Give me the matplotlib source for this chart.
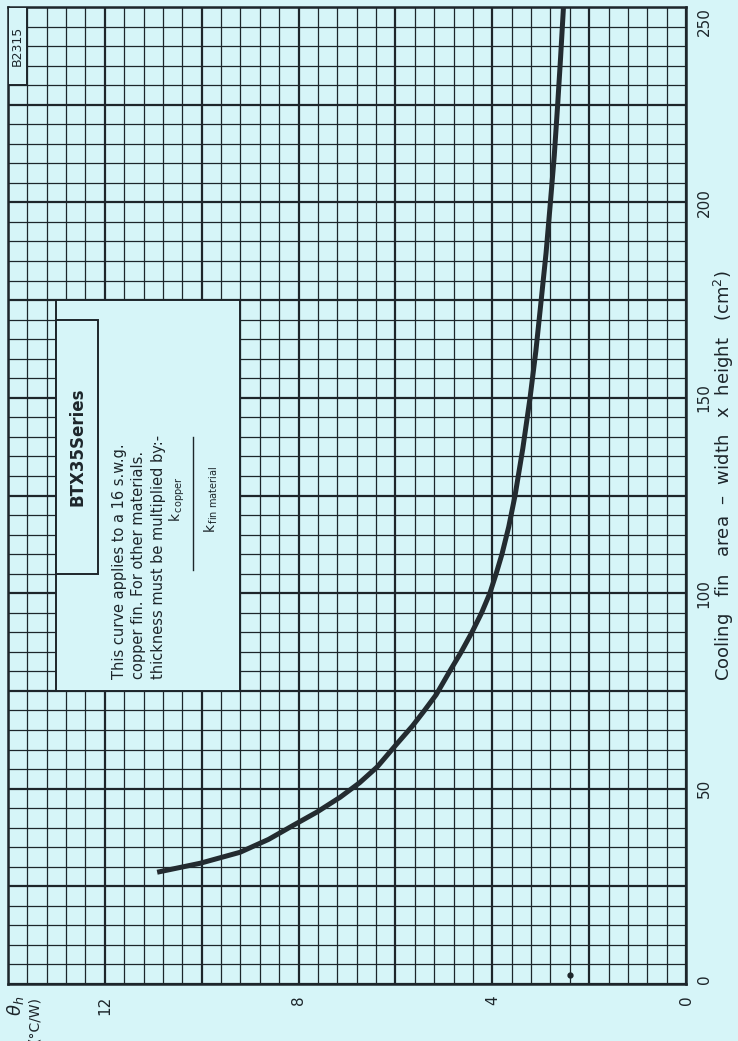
import matplotlib
matplotlib.use("Agg")
import matplotlib.pyplot as plt
from matplotlib.patches import Rectangle
import numpy as np

# Heatsink thermal resistance vs. cooling fin area (BTX35 series)
fin_area = [28.6, 30.9, 33.7, 37, 40.6, 44, 47.8, 51.5, 55.5, 61.6, 66, 70, 74, 80, 85, 90,
            95, 100, 105, 110, 117, 125, 137, 150, 162, 175, 187, 200, 212, 225, 237, 250]
theta_h = [10.92, 10.03, 9.21, 8.62, 8.11, 7.62, 7.14, 6.74, 6.38, 5.96, 5.65, 5.4, 5.16,
           4.88, 4.64, 4.42, 4.22, 4.05, 3.92, 3.8, 3.66, 3.53, 3.37, 3.22, 3.1, 2.99, 2.89,
           2.8, 2.72, 2.65, 2.59, 2.53]

area_ticks = [0, 50, 100, 150, 200, 250]
theta_ticks = [0, 4, 8, 12]

BG = "#d6f5f8"
INK = "#1d262b"

fig = plt.figure(figsize=(7.38, 10.41), dpi=100, facecolor=BG)
W, H = 738, 1041
left, right, top, bottom = 8, 686, 7, 984
ax = fig.add_axes([left / W, 1 - bottom / H, (right - left) / W, (bottom - top) / H])
ax.set_facecolor(BG)

# printed sideways: theta runs horizontally (increasing leftwards),
# fin area runs vertically
ax.set_xlim(14, 0)
ax.set_ylim(0, 250)

# graph-paper grid
for v in np.arange(0, 14.01, 0.4):
    major = abs(v / 2 - round(v / 2)) < 1e-6
    ax.axvline(v, color=INK, lw=1.6 if major else 0.9, zorder=1)
for a in np.arange(0, 250.01, 5):
    major = a % 25 == 0
    ax.axhline(a, color=INK, lw=1.6 if major else 0.9, zorder=1)

# blank panels for the notes
ax.add_patch(Rectangle((9.2, 75), 3.8, 100, facecolor=BG, edgecolor=INK, lw=1.4, zorder=2))
ax.add_patch(Rectangle((12.15, 105), 0.85, 65, facecolor=BG, edgecolor=INK, lw=1.4, zorder=3))
ax.add_patch(Rectangle((13.6, 230), 0.4, 20, facecolor=BG, edgecolor=INK, lw=1.4, zorder=3))

ax.plot(theta_h, fin_area, color="#232b30", lw=3.6, solid_capstyle="butt",
        solid_joinstyle="round", zorder=5)
ax.plot([2.4], [2.3], "o", color=INK, ms=3.5, zorder=5)

for s in ax.spines.values():
    s.set_color(INK)
    s.set_linewidth(1.8)
ax.set_xticks([])
ax.set_yticks([])

fs = 11
for a in area_ticks:
    ax.text(-0.22, a, str(a), rotation=90, ha="left",
            va="bottom" if a == 0 else ("top" if a == 250 else "center"),
            fontsize=fs, color=INK)
for t in theta_ticks:
    ax.text(t, -3, str(t), rotation=90, ha="center", va="top", fontsize=fs, color=INK)

ax.text(-0.78, 130, "Cooling   fin   area  –  width   x  height   (cm$^2$)", rotation=90,
        ha="center", va="center", fontsize=13, color=INK)
ax.text(13.85, -3, r"$\theta_h$", rotation=90, ha="center", va="top", fontsize=13, color=INK)
ax.text(13.45, -3, "(°C/W)", rotation=90, ha="center", va="top", fontsize=10, color=INK)

ax.text(13.8, 240, "B2315", rotation=90, ha="center", va="center", fontsize=9, color=INK, zorder=6)
ax.text(12.575, 137.5, "BTX35Series", rotation=90, ha="center", va="center", fontsize=12,
        fontweight="bold", color=INK, zorder=6)

note = ["This curve applies to a 16 s.w.g.",
        "copper fin. For other materials.",
        "thickness must be multiplied by:-"]
for i, line in enumerate(note):
    ax.text(11.69 - 0.395 * i, 78, line, rotation=90, ha="center", va="bottom",
            fontsize=10.5, color=INK, zorder=6)
# k_copper / k_fin material, written across a vertical fraction bar
ax.text(10.51, 124, r"k$_{\,\mathrm{copper}}$", rotation=90, ha="center", va="center",
        fontsize=10, color=INK, zorder=6)
ax.plot([10.18, 10.18], [106, 140], color=INK, lw=1.0, zorder=6)
ax.text(9.81, 124, r"k$_{\,\mathrm{fin\ material}}$", rotation=90, ha="center", va="center",
        fontsize=10, color=INK, zorder=6)

fig.savefig("out.png", dpi=100, facecolor=BG)
